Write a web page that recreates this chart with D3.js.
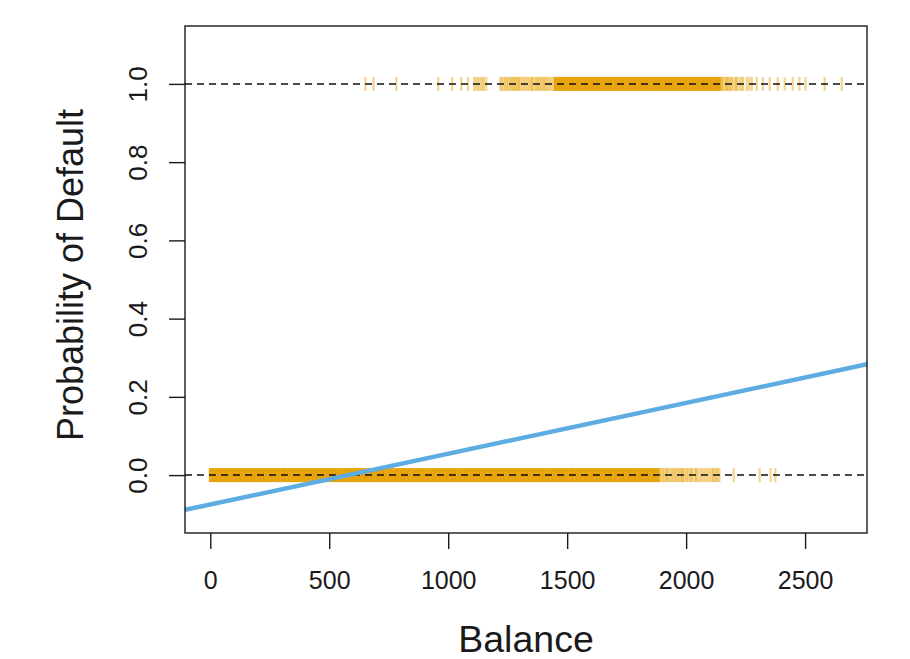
<!DOCTYPE html>
<html>
<head>
<meta charset="utf-8">
<script src="https://cdn.jsdelivr.net/npm/d3@7"></script>
<style>
  html, body { margin: 0; padding: 0; background: #ffffff; }
  svg { display: block; }
  text { font-family: "Liberation Sans", Arial, Helvetica, sans-serif; fill: #1a1a1a; }
</style>
</head>
<body>
<svg id="chart" width="910" height="659"></svg>
<script>
// ---------------- DATA ----------------
// Axis tick values
const xTickValues = [0, 500, 1000, 1500, 2000, 2500];
const yTickValues = [0.0, 0.2, 0.4, 0.6, 0.8, 1.0];
const yTickLabels = ["0.0", "0.2", "0.4", "0.6", "0.8", "1.0"];

// Axis titles
const xTitle = "Balance";
const yTitle = "Probability of Default";

// Reference lines (dashed) at these probabilities
const refLines = [0, 1];

// Linear regression fit of default on balance
const fitIntercept = -0.0752;
const fitSlope = 0.0001299;

// Default = Yes (plotted at 1): isolated observations (balance)
const defaultSparse = [652, 686, 782, 958, 1017, 1055, 1084, 1109, 1118, 1126, 1135, 1143, 1150, 1160,
  1219, 1225, 1233, 1240, 1246, 1252, 1260, 1265, 1271, 1276, 1281, 1287, 1292, 1297, 1302, 1310,
  1318, 1325, 1332, 1340, 1347, 1352, 1357, 1366, 1372, 1378, 1384, 1390, 1397, 1402, 1407, 1415,
  1421, 1428, 1436, 1444, 2146, 2150, 2155, 2162, 2168, 2172, 2178, 2183, 2190, 2195, 2204, 2210,
  2214, 2225, 2233, 2240, 2255, 2265, 2276, 2297, 2322, 2351, 2385, 2414, 2448, 2476, 2502, 2582, 2654];
// Default = Yes: saturated (densely overlapping) observations
const defaultDense = [1450, 1460, 1470, 1480, 1490, 1500, 1510, 1520, 1530, 1540, 1550, 1560, 1570,
  1580, 1590, 1600, 1610, 1620, 1630, 1640, 1650, 1660, 1670, 1680, 1690, 1700, 1710, 1720, 1730,
  1740, 1750, 1760, 1770, 1780, 1790, 1800, 1810, 1820, 1830, 1840, 1850, 1860, 1870, 1880, 1890,
  1900, 1910, 1920, 1930, 1940, 1950, 1960, 1970, 1980, 1990, 2000, 2010, 2020, 2030, 2040, 2050,
  2060, 2070, 2080, 2090, 2100, 2110, 2120, 2130, 2140];

// Default = No (plotted at 0): saturated observations
const noDefaultDense = [0, 10, 20, 30, 40, 50, 60, 70, 80, 90, 100, 110, 120, 130, 140, 150, 160, 170,
  180, 190, 200, 210, 220, 230, 240, 250, 260, 270, 280, 290, 300, 310, 320, 330, 340, 350, 360,
  370, 380, 390, 400, 410, 420, 430, 440, 450, 460, 470, 480, 490, 500, 510, 520, 530, 540, 550,
  560, 570, 580, 590, 600, 610, 620, 630, 640, 650, 660, 670, 680, 690, 700, 710, 720, 730, 740,
  750, 760, 770, 780, 790, 800, 810, 820, 830, 840, 850, 860, 870, 880, 890, 900, 910, 920, 930,
  940, 950, 960, 970, 980, 990, 1000, 1010, 1020, 1030, 1040, 1050, 1060, 1070, 1080, 1090, 1100,
  1110, 1120, 1130, 1140, 1150, 1160, 1170, 1180, 1190, 1200, 1210, 1220, 1230, 1240, 1250, 1260,
  1270, 1280, 1290, 1300, 1310, 1320, 1330, 1340, 1350, 1360, 1370, 1380, 1390, 1400, 1410, 1420,
  1430, 1440, 1450, 1460, 1470, 1480, 1490, 1500, 1510, 1520, 1530, 1540, 1550, 1560, 1570, 1580,
  1590, 1600, 1610, 1620, 1630, 1640, 1650, 1660, 1670, 1680, 1690, 1700, 1710, 1720, 1730, 1740,
  1750, 1760, 1770, 1780, 1790, 1800, 1810, 1820, 1830, 1840, 1850, 1860, 1870, 1880];
// Default = No: isolated observations
const noDefaultSparse = [1885, 1890, 1895, 1902, 1908, 1915, 1920, 1926, 1933, 1940, 1946, 1952, 1958,
  1965, 1971, 1978, 1983, 1987, 1995, 2002, 2008, 2016, 2022, 2027, 2037, 2043, 2048, 2058, 2066,
  2075, 2083, 2092, 2100, 2108, 2114, 2120, 2127, 2133, 2140, 2200, 2309, 2355, 2375];

// ---------------- CHART ----------------
const svg = d3.select("#chart");
const box = { left: 185, right: 867, top: 26, bottom: 533 };

const x = d3.scaleLinear().domain([-106.2, 2760.2]).range([box.left, box.right]);
const y = d3.scaleLinear().domain([-0.148, 1.148]).range([box.bottom, box.top]);

const orange = "#E69F00";
const markH = 14;

svg.append("defs").append("clipPath").attr("id", "clip")
  .append("rect").attr("x", box.left).attr("y", box.top)
  .attr("width", box.right - box.left).attr("height", box.bottom - box.top);

const plot = svg.append("g").attr("clip-path", "url(#clip)");

function drawMarks(values, level, width, opacity) {
  plot.append("g").selectAll("rect").data(values).join("rect")
    .attr("x", d => x(d) - width / 2)
    .attr("y", y(level) - markH / 2)
    .attr("width", width)
    .attr("height", markH)
    .attr("fill", orange)
    .attr("fill-opacity", opacity);
}
drawMarks(noDefaultDense, 0, 2.8, 0.95);
drawMarks(noDefaultSparse, 0, 2.2, 0.45);
drawMarks(defaultDense, 1, 2.8, 0.95);
drawMarks(defaultSparse, 1, 2.2, 0.45);

// dashed reference lines
plot.append("g").selectAll("line").data(refLines).join("line")
  .attr("x1", box.left).attr("x2", box.right)
  .attr("y1", d => y(d)).attr("y2", d => y(d))
  .attr("stroke", "#111").attr("stroke-width", 1.5)
  .attr("stroke-dasharray", "7,5");

// regression line
const xd = x.domain();
plot.append("line")
  .attr("x1", x(xd[0])).attr("y1", y(fitIntercept + fitSlope * xd[0]))
  .attr("x2", x(xd[1])).attr("y2", y(fitIntercept + fitSlope * xd[1]))
  .attr("stroke", "#5DADE2").attr("stroke-width", 4.5);

// box
svg.append("rect")
  .attr("x", box.left).attr("y", box.top)
  .attr("width", box.right - box.left).attr("height", box.bottom - box.top)
  .attr("fill", "none").attr("stroke", "#1a1a1a").attr("stroke-width", 1.4);

// x axis
const xAxis = d3.axisBottom(x).tickValues(xTickValues).tickSize(16).tickPadding(0).tickFormat(d3.format("d"));
const gx = svg.append("g").attr("transform", `translate(0,${box.bottom})`).call(xAxis);
gx.select(".domain").remove();
gx.selectAll(".tick line").attr("stroke", "#1a1a1a").attr("stroke-width", 1.4);
gx.selectAll(".tick text").attr("font-size", 25).attr("dy", null).attr("y", 56)
  .attr("font-family", "Liberation Sans, Arial, sans-serif").attr("fill", "#1a1a1a");

// y axis
const yAxis = d3.axisLeft(y).tickValues(yTickValues).tickSize(16)
  .tickFormat((d, i) => yTickLabels[i]);
const gy = svg.append("g").attr("transform", `translate(${box.left},0)`).call(yAxis);
gy.select(".domain").remove();
gy.selectAll(".tick line").attr("stroke", "#1a1a1a").attr("stroke-width", 1.4);
gy.selectAll(".tick text")
  .attr("font-size", 26).attr("x", null).attr("dy", null)
  .attr("text-anchor", "middle")
  .attr("transform", "translate(-38,0) rotate(-90)")
  .attr("font-family", "Liberation Sans, Arial, sans-serif").attr("fill", "#1a1a1a");

// titles
svg.append("text")
  .attr("x", (box.left + box.right) / 2).attr("y", 652)
  .attr("text-anchor", "middle").attr("font-size", 37.5)
  .text(xTitle);
svg.append("text")
  .attr("transform", `translate(83,275) rotate(-90)`)
  .attr("text-anchor", "middle").attr("font-size", 36)
  .text(yTitle);
</script>
</body>
</html>
